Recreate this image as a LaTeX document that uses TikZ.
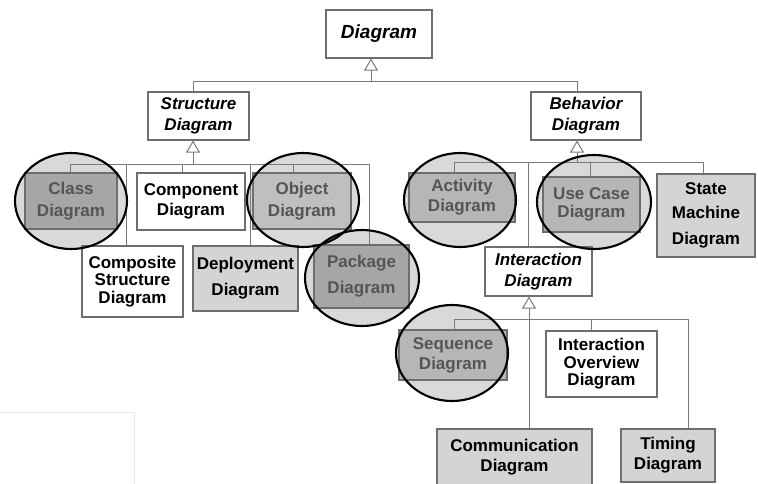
\documentclass[tikz,border=0pt]{standalone}
\usepackage{fontspec}
\setmainfont{Liberation Sans}
\usetikzlibrary{arrows.meta,shapes.geometric}
\definecolor{linegray}{HTML}{7A7A7A}
\definecolor{boxline}{HTML}{6E6E6E}
\definecolor{darkfill}{HTML}{A6A6A6}
\definecolor{midfill}{HTML}{B6B6B6}
\definecolor{lightfill}{HTML}{D4D4D4}
\definecolor{ringfill}{HTML}{D9D9D9}
\definecolor{dimtext}{HTML}{555555}
\tikzset{
  box/.style={draw=boxline, line width=1.1pt, rectangle, inner sep=0pt, align=center,
    font=\fontsize{17}{20}\selectfont\bfseries, text=black},
  abstractbox/.style={box, fill=white, font=\fontsize{17}{21}\selectfont\bfseries\itshape},
  whitebox/.style={box, fill=white},
  graybox/.style={box, fill=lightfill},
  markedbox/.style={box, fill=midfill, text=dimtext},
  darkbox/.style={box, fill=darkfill, text=dimtext},
  ringfillstyle/.style={fill=ringfill},
  ringline/.style={draw=black, line width=2.1pt},
  conn/.style={draw=linegray, line width=1pt},
  gen/.style={conn, -{Triangle[open, length=12pt, width=14pt, fill=white]}},
}
\begin{document}
\begin{tikzpicture}[x=1pt, y=-1pt]
\useasboundingbox (0,0) rectangle (758,484);
% faint artifact rectangle
\draw[draw=black!9, line width=0.8pt] (-2,412) -- (134,412) -- (134,486);

% ellipse backgrounds
\fill[ringfillstyle] (71,201) ellipse [x radius=56, y radius=48];
\fill[ringfillstyle] (303,200) ellipse [x radius=56, y radius=47];
\fill[ringfillstyle] (362,278) ellipse [x radius=57, y radius=48];
\fill[ringfillstyle] (460,200) ellipse [x radius=56, y radius=47];
\fill[ringfillstyle] (594,202) ellipse [x radius=57, y radius=47];
\fill[ringfillstyle] (452,353) ellipse [x radius=56, y radius=48];

% nodes
\node[abstractbox, minimum width=106, minimum height=48, font=\fontsize{19}{21}\selectfont\bfseries\itshape] (diag) at (379,34) {Diagram};
\node[abstractbox, minimum width=101, minimum height=48] (struct) at (198.5,116) {Structure\\Diagram};
\node[abstractbox, minimum width=110, minimum height=48] (behav) at (586,116) {Behavior\\Diagram};

\node[darkbox, minimum width=92, minimum height=56] (class) at (71,201) {Class\\[2pt]Diagram};
\node[whitebox, minimum width=108, minimum height=57] (comp) at (191,201.5) {Component\\Diagram};
\node[markedbox, fill=lightfill!90!black, minimum width=98, minimum height=56] (object) at (302,201) {Object\\[2pt]Diagram};
\node[whitebox, minimum width=101, minimum height=71, font=\fontsize{17}{17.5}\selectfont\bfseries] (composite) at (132.5,281.5) {Composite\\Structure\\Diagram};
\node[graybox, minimum width=105, minimum height=65] (deploy) at (245.5,278.5) {Deployment\\[6pt]Diagram};
\node[darkbox, minimum width=95, minimum height=63] (package) at (361.5,276.5) {Package\\[6pt]Diagram};

\node[markedbox, minimum width=106, minimum height=49] (activity) at (462,197.5) {Activity\\Diagram};
\node[markedbox, minimum width=97, minimum height=55] (usecase) at (591.5,204.5) {Use Case\\[-2pt]Diagram};
\node[graybox, minimum width=98, minimum height=83] (state) at (706,215.5) {State\\[4pt]Machine\\[6pt]Diagram};
\node[abstractbox, minimum width=107, minimum height=49] (inter) at (538.5,271.5) {Interaction\\Diagram};

\node[markedbox, minimum width=108, minimum height=50] (sequence) at (453,355) {Sequence\\Diagram};
\node[whitebox, minimum width=111, minimum height=66, font=\fontsize{17}{17.5}\selectfont\bfseries] (overview) at (601.5,364) {Interaction\\Overview\\Diagram};
\node[graybox, minimum width=155, minimum height=57] (comm) at (514.5,457.5) {Communication\\Diagram};
\node[graybox, minimum width=94, minimum height=53] (timing) at (668,455.5) {Timing\\Diagram};

% junction coordinates
\coordinate (dj) at (371,82);
\coordinate (djl) at (193,82);
\coordinate (djr) at (577,82);

\coordinate (sj) at (193,165);
\coordinate (sx1) at (70,165);
\coordinate (sx2) at (126,165);
\coordinate (sx3) at (182,165);
\coordinate (sx4) at (250,165);
\coordinate (sx5) at (293,165);
\coordinate (sx6) at (369,165);

\coordinate (bj) at (577,163);
\coordinate (bx1) at (454,163);
\coordinate (bx2) at (528,163);
\coordinate (bx3) at (590,163);
\coordinate (bx4) at (703,163);

\coordinate (ij) at (529,319);
\coordinate (ix1) at (454,319);
\coordinate (ix2) at (591,319);
\coordinate (ix3) at (688,319);

% Diagram generalisations
\draw[conn] (struct.north -| djl) -- (djl) -- (djr) -- (behav.north -| djr);
\draw[gen] (dj) -- (dj |- diag.south);

% Structure children
\draw[gen] (sj) -- (sj |- struct.south);
\draw[conn] (class.north -| sx1) -- (sx1) -- (sx6) -- (package.north -| sx6);
\draw[conn] (sx2) -- (composite.north -| sx2);
\draw[conn] (sx3) -- (comp.north -| sx3);
\draw[conn] (sx4) -- (deploy.north -| sx4);
\draw[conn] (sx5) -- (object.north -| sx5);

% Behavior children
\draw[gen] (bj) -- (bj |- behav.south);
\draw[conn] (activity.north -| bx1) -- (bx1) -- (bx4) -- (state.north -| bx4);
\draw[conn] (bx2) -- (inter.north -| bx2);
\draw[conn] (bx3) -- (usecase.north -| bx3);

% Interaction children
\draw[gen] (comm.north -| ij) -- (ij |- inter.south);
\draw[conn] (sequence.north -| ix1) -- (ix1) -- (ix3) -- (timing.north -| ix3);
\draw[conn] (ix2) -- (overview.north -| ix2);

% ellipse outlines
\draw[ringline] (71,201) ellipse [x radius=56, y radius=48];
\draw[ringline] (303,200) ellipse [x radius=56, y radius=47];
\draw[ringline] (362,278) ellipse [x radius=57, y radius=48];
\draw[ringline] (460,200) ellipse [x radius=56, y radius=47];
\draw[ringline] (594,202) ellipse [x radius=57, y radius=47];
\draw[ringline] (452,353) ellipse [x radius=56, y radius=48];
\end{tikzpicture}
\end{document}
